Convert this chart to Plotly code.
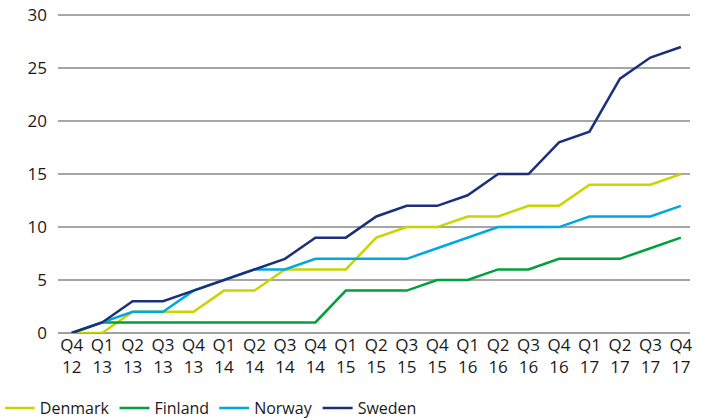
import plotly.graph_objects as go

quarters = ["Q4<br>12", "Q1<br>13", "Q2<br>13", "Q3<br>13", "Q4<br>13",
            "Q1<br>14", "Q2<br>14", "Q3<br>14", "Q4<br>14",
            "Q1<br>15", "Q2<br>15", "Q3<br>15", "Q4<br>15",
            "Q1<br>16", "Q2<br>16", "Q3<br>16", "Q4<br>16",
            "Q1<br>17", "Q2<br>17", "Q3<br>17", "Q4<br>17"]

denmark = [0, 0, 2, 2, 2, 4, 4, 6, 6, 6, 9, 10, 10, 11, 11, 12, 12, 14, 14, 14, 15]
finland = [0, 1, 1, 1, 1, 1, 1, 1, 1, 4, 4, 4, 5, 5, 6, 6, 7, 7, 7, 8, 9]
norway = [0, 1, 2, 2, 4, 5, 6, 6, 7, 7, 7, 7, 8, 9, 10, 10, 10, 11, 11, 11, 12]
sweden = [0, 1, 3, 3, 4, 5, 6, 7, 9, 9, 11, 12, 12, 13, 15, 15, 18, 19, 24, 26, 27]

series = [("Denmark", denmark, "#c9d400"),
          ("Finland", finland, "#00a03c"),
          ("Norway", norway, "#00a8e1"),
          ("Sweden", sweden, "#1d2f7a")]

x = list(range(len(quarters)))
fig = go.Figure()
for name, vals, col in series:
    fig.add_trace(go.Scatter(x=x, y=vals, name=name, mode="lines",
                             line=dict(color=col, width=2.5)))

font = "Open Sans, Noto Sans, sans-serif"
fig.update_layout(
    width=713, height=420,
    margin=dict(l=58, r=23, t=12, b=87, autoexpand=False),
    paper_bgcolor="white", plot_bgcolor="white",
    font=dict(family=font, size=17, color="#1a1a1a"),
    showlegend=True,
    legend=dict(orientation="h", x=-0.092, xanchor="left", y=-0.234, yanchor="middle",
                font=dict(size=16), tracegroupgap=0),
    xaxis=dict(tickmode="array", tickvals=x, ticktext=quarters, automargin=False,
               range=[-0.45, 20.3], showgrid=False, zeroline=False,
               showline=False, ticks="", tickfont=dict(size=17)),
    yaxis=dict(range=[0, 30.3], tickvals=[0, 5, 10, 15, 20, 25, 30], automargin=False,
               showgrid=True, gridcolor="#a6a6a6", gridwidth=1.5,
               zeroline=True, zerolinecolor="#a0a0a0", zerolinewidth=2,
               showline=False, ticks="", ticklabelstandoff=10,
               ticklabeloverflow="allow", tickfont=dict(size=17)),
)
fig.write_html("out.html", config={"displayModeBar": False},
               post_script="document.body.style.margin='0';")
